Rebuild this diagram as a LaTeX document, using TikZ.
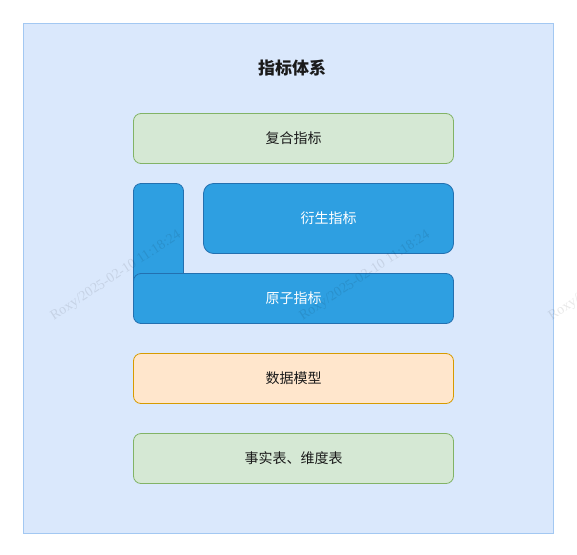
\documentclass[tikz,border=0pt]{standalone}
\usepackage{fontspec}
\setmainfont{Noto Sans CJK SC}
\newfontfamily\wmfont{Liberation Serif}
\definecolor{contfill}{HTML}{DAE8FC}
\definecolor{contdraw}{HTML}{A3C8F2}
\definecolor{grfill}{HTML}{D5E8D4}
\definecolor{grdraw}{HTML}{82B366}
\definecolor{orfill}{HTML}{FFE6CC}
\definecolor{ordraw}{HTML}{D79B00}
\definecolor{blfill}{HTML}{2E9FE1}
\definecolor{bldraw}{HTML}{2370B0}
\definecolor{txt}{HTML}{1A1A1A}
\begin{document}
\begin{tikzpicture}[x=1pt,y=-1pt,
  box/.style={rounded corners=7.5pt, line width=0.8pt},
  greenbox/.style={box, fill=grfill, draw=grdraw},
  orangebox/.style={box, fill=orfill, draw=ordraw},
  bluebox/.style={box, fill=blfill, draw=bldraw},
  lbl/.style={font=\fontsize{14}{16}\selectfont, text=txt},
  wlbl/.style={font=\fontsize{14}{16}\selectfont, text=white},
  wm/.style={font=\wmfont\fontsize{14}{16}\selectfont, text=black, opacity=0.09, rotate=33}]
\useasboundingbox (0,0) rectangle (577,554);
\fill[white] (0,0) rectangle (577,554);
% container
\draw[fill=contfill, draw=contdraw, line width=0.8pt] (23.5,23.5) rectangle (553.5,533.5);
\node[font=\bfseries\fontsize{17}{20}\selectfont, text=txt] (title) at (292,68) {指标体系};
% boxes
\draw[greenbox] (133.5,113.5) rectangle (453.5,163.5);
\node[lbl] (fuhe) at (293.5,138.5) {复合指标};
\draw[bluebox] (133.5,183.5) rectangle (183.5,320);
\draw[bluebox, rounded corners=10pt] (203.5,183.5) rectangle (453.5,253.5);
\node[wlbl] (yansheng) at (328.5,218.5) {衍生指标};
\draw[bluebox] (133.5,273.5) rectangle (453.5,323.5);
\node[wlbl] (yuanzi) at (293.5,298.5) {原子指标};
\draw[orangebox] (133.5,353.5) rectangle (453.5,403.5);
\node[lbl] (shuju) at (293.5,378.5) {数据模型};
\draw[greenbox] (133.5,433.5) rectangle (453.5,483.5);
\node[lbl] (shishi) at (293.5,458.5) {事实表、维度表};
% watermarks
\begin{scope}
\clip (0,0) rectangle (577,554);
\node[wm] (wm1) at (116,276) {Roxy/2025-02-10 11:18:24};
\node[wm] (wm2) at (365,276) {Roxy/2025-02-10 11:18:24};
\node[wm] (wm3) at (614,276) {Roxy/2025-02-10 11:18:24};
\end{scope}
\end{tikzpicture}
\end{document}
